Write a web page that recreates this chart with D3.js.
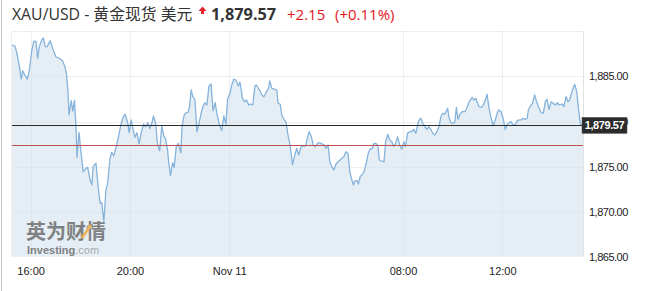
<!DOCTYPE html>
<html>
<head>
<meta charset="utf-8">
<script src="https://cdn.jsdelivr.net/npm/d3@7"></script>
<style>
  body { margin: 0; background: #fff; }
  svg { display: block; }
  .ylab text { font-family: "Liberation Sans", Arial, sans-serif; font-size: 11px; fill: #222; letter-spacing: -0.5px; }
  .xlab text { font-family: "Liberation Sans", Arial, sans-serif; font-size: 11px; fill: #222; }
</style>
</head>
<body>
<svg width="649" height="291"></svg>
<script>
// header values
const symbol = 'XAU/USD - 黄金现货 美元';
const lastPrice = 1879.57;
const change = 2.15;
const changePct = 0.11;
const prevClose = lastPrice - change;

// x ticks (Beijing time, 10 -> 11 Nov)
const tickTimes = ['16:00', '20:00', '00:00', '08:00', '12:00'];
const tickLabels = ['16:00', '20:00', 'Nov 11', '08:00', '12:00'];
const yTicks = [1865, 1870, 1875, 1880, 1885];
const yGrid = [1870, 1875, 1880, 1885, 1890];

// price series
const times = [
  '15:15','15:22','15:26','15:33','15:37','15:41','15:46','15:52','15:57','16:03',
  '16:08','16:13','16:17','16:21','16:27','16:31','16:35','16:40','16:47','16:53',
  '17:01','17:09','17:17','17:23','17:27','17:30','17:33','17:38','17:42','17:46',
  '17:50','17:52','17:57','18:02','18:07','18:14','18:18','18:23','18:28','18:31',
  '18:38','18:44','18:48','18:52','18:57','19:02','19:06','19:12','19:16','19:21',
  '19:28','19:34','19:38','19:44','19:48','19:55','19:58','20:03','20:08','20:12',
  '20:17','20:22','20:28','20:33','20:38','20:43','20:48','20:53','20:57','21:02',
  '21:07','21:12','21:17','21:22','21:26','21:31','21:34','21:38','21:43','21:47',
  '21:52','21:57','22:03','22:06','22:11','22:16','22:21','22:24','22:28','22:32',
  '22:37','22:42','22:47','22:52','22:57','23:01','23:06','23:11','23:16','23:21',
  '23:26','23:30','23:35','23:42','23:47','23:52','23:56','00:02','00:06','00:11',
  '00:16','00:22','00:26','00:32','00:37','00:42','00:47','00:52','00:57','01:02',
  '01:06','01:13','01:19','01:24','01:30','01:35','01:38','01:43','01:50','01:55',
  '01:58','02:03','02:07','02:12','02:17','02:22','02:27','02:30','02:33','02:38',
  '02:43','02:48','02:53','02:57','03:04','03:09','03:13','03:18','03:23','03:28',
  '03:33','03:38','03:44','03:49','03:54','03:59','04:03','04:08','04:13','04:18',
  '04:23','04:28','04:32','04:37','04:42','04:47','04:52','04:57','05:00','05:04',
  '05:09','05:12','05:17','05:21','05:26','05:31','05:36','05:40','05:46','05:49',
  '05:54','05:59','07:03','07:08','07:14','07:18','07:23','07:28','07:33','07:37',
  '07:42','07:47','07:52','07:57','08:02','08:06','08:11','08:16','08:21','08:26',
  '08:31','08:35','08:38','08:43','08:48','08:53','08:58','09:03','09:07','09:12',
  '09:17','09:22','09:27','09:32','09:36','09:41','09:44','09:48','09:51','09:56',
  '10:01','10:05','10:09','10:13','10:18','10:23','10:30','10:34','10:40','10:47',
  '10:51','10:56','10:59','11:04','11:09','11:14','11:19','11:23','11:28','11:33',
  '11:38','11:43','11:48','11:52','11:57','12:02','12:07','12:12','12:17','12:21',
  '12:26','12:31','12:36','12:41','12:46','12:50','12:55','13:00','13:03','13:08',
  '13:13','13:18','13:23','13:28','13:34','13:39','13:44','13:48','13:53','13:58',
  '14:03','14:08','14:13','14:17','14:24','14:29','14:34','14:39','14:43','14:48',
  '14:55','15:00','15:04','15:09','15:15'
];
const prices = [
  1888.48,1888.37,1887.74,1886.08,1884.71,1885.63,1885.16,1884.68,1885.71,1887.93,
  1888.92,1888.85,1887.01,1888.29,1889.04,1889.26,1888.29,1888.29,1888.96,1888.12,
  1887.18,1887.01,1886.74,1886.08,1885.16,1883.49,1880.72,1882.31,1881.16,1882.38,
  1879.06,1875.99,1878.80,1876.47,1874.44,1874.81,1874.92,1873.70,1872.96,1874.99,
  1875.37,1872.41,1870.93,1871.00,1868.89,1872.41,1873.15,1875.92,1876.59,1876.18,
  1877.40,1878.69,1879.61,1880.53,1880.83,1879.80,1878.76,1880.17,1879.06,1878.25,
  1878.76,1877.51,1878.87,1879.72,1879.42,1879.87,1879.20,1879.80,1880.61,1879.80,
  1877.40,1876.76,1879.50,1878.39,1878.14,1876.84,1875.37,1873.99,1875.43,1874.92,
  1877.21,1877.58,1876.54,1879.42,1880.72,1880.98,1881.05,1881.64,1883.49,1882.75,
  1882.46,1878.87,1879.80,1880.91,1881.72,1882.08,1881.83,1883.94,1884.16,1881.20,
  1882.08,1880.98,1879.87,1878.98,1880.61,1879.72,1882.46,1883.13,1884.05,1884.68,
  1884.60,1883.94,1884.38,1882.57,1882.20,1882.38,1881.83,1881.94,1881.83,1883.94,
  1884.05,1883.49,1882.94,1882.75,1883.30,1883.68,1884.49,1883.68,1883.57,1883.49,
  1882.02,1881.94,1880.72,1880.24,1879.98,1878.50,1877.40,1876.29,1875.18,1876.18,
  1877.03,1876.29,1877.14,1877.28,1877.28,1878.14,1878.87,1878.39,1877.40,1877.21,
  1877.58,1877.65,1877.51,1877.40,1877.03,1877.40,1875.54,1874.99,1874.62,1875.29,
  1875.54,1875.73,1875.92,1876.10,1876.65,1876.47,1874.26,1873.44,1872.96,1873.44,
  1873.44,1873.07,1873.96,1874.07,1874.44,1875.37,1876.47,1876.92,1877.03,1877.51,
  1877.58,1877.40,1875.73,1875.62,1875.54,1877.76,1878.58,1877.95,1877.76,1877.21,
  1877.58,1878.32,1877.40,1876.92,1877.76,1877.21,1878.69,1878.87,1878.87,1879.14,
  1878.69,1879.61,1880.09,1880.36,1879.80,1879.42,1879.14,1879.42,1879.14,1878.69,
  1878.50,1878.87,1879.42,1880.61,1880.91,1880.83,1881.09,1881.46,1880.47,1879.87,
  1879.80,1879.87,1881.57,1880.24,1880.83,1881.09,1881.09,1881.46,1882.20,1882.68,
  1882.38,1882.57,1882.20,1881.64,1881.57,1881.83,1882.38,1883.02,1881.46,1880.36,
  1879.53,1880.17,1880.98,1881.28,1881.09,1880.36,1879.14,1879.72,1879.87,1879.98,
  1879.61,1879.61,1880.09,1880.17,1880.17,1880.36,1880.24,1880.36,1881.28,1881.72,
  1882.02,1882.94,1882.20,1881.57,1880.98,1880.91,1882.20,1882.46,1881.35,1882.20,
  1882.02,1881.83,1882.08,1881.83,1881.94,1881.64,1882.75,1882.20,1882.38,1883.30,
  1884.12,1883.30,1881.46,1879.61,1879.57
];

// turn clock strings into trading minutes since 15:15 (06:00-07:00 break removed)
function toTrading(list) {
  let day = 0, prev = -1;
  return list.map((t) => {
    const [h, m] = t.split(':').map(Number);
    const mins = h * 60 + m;
    if (mins < prev) day++;
    prev = mins;
    let real = day * 1440 + mins - (15 * 60 + 15);
    if (real >= 945) real -= 60;
    else if (real > 885) real = 885;
    return real;
  });
}

const xs = toTrading(times);
const data = xs.map((x, i) => ({ x: x, v: prices[i] }));

const plotL = 12, plotR = 583, plotT = 31.3, plotB = 256.8;
const x = d3.scaleLinear().domain([0, 1380]).range([plotL, plotR]);
const y = d3.scaleLinear().domain([1865, 1890]).range([plotB, plotT]);

const svg = d3.select('svg');

// outer left border of the widget
svg.append('line')
  .attr('x1', 1.5).attr('x2', 1.5).attr('y1', 0).attr('y2', 291)
  .attr('stroke', '#c8c8c8');

// area + line
const area = d3.area().x((d) => x(d.x)).y0(plotB).y1((d) => y(d.v));
const line = d3.line().x((d) => x(d.x)).y((d) => y(d.v));

svg.append('path')
  .attr('d', area(data))
  .attr('fill', '#e5eef5');

// grid
const tickX = toTrading(tickTimes);
svg.append('g').selectAll('line').data(yGrid).join('line')
  .attr('x1', plotL).attr('x2', plotR)
  .attr('y1', (d) => Math.round(y(d)) + 0.5).attr('y2', (d) => Math.round(y(d)) + 0.5)
  .attr('stroke', '#d8dde2').attr('stroke-opacity', 0.45);
svg.append('g').selectAll('line').data(tickX).join('line')
  .attr('x1', (d) => Math.round(x(d)) + 0.5).attr('x2', (d) => Math.round(x(d)) + 0.5)
  .attr('y1', plotT).attr('y2', plotB)
  .attr('stroke', '#d8dde2').attr('stroke-opacity', 0.45);

// plot frame
svg.append('line')
  .attr('x1', plotR + 0.5).attr('x2', plotR + 0.5).attr('y1', plotT).attr('y2', plotB)
  .attr('stroke', '#e2e2e2');
svg.append('line')
  .attr('x1', plotL - 0.5).attr('x2', plotL - 0.5).attr('y1', plotT).attr('y2', plotB)
  .attr('stroke', '#eeeeee');

svg.append('path')
  .attr('d', line(data))
  .attr('fill', 'none')
  .attr('stroke', '#86b3dc')
  .attr('stroke-width', 1.3)
  .attr('stroke-linejoin', 'round');

// watermark
const wm = svg.append('g').attr('opacity', 0.8);
wm.append('text')
  .attr('x', 26).attr('y', 239)
  .attr('font-family', '"Noto Sans CJK SC", sans-serif')
  .attr('font-size', 20).attr('font-weight', 'bold')
  .attr('fill', '#666')
  .text('英为财情');
wm.append('line')
  .attr('x1', 82).attr('y1', 238).attr('x2', 91).attr('y2', 225)
  .attr('stroke', '#f2a93b').attr('stroke-width', 3);
wm.append('text')
  .attr('x', 27).attr('y', 254)
  .attr('font-family', '"Liberation Sans", Arial, sans-serif')
  .attr('font-size', 11)
  .html('<tspan font-weight="bold" fill="#666">Investing</tspan><tspan fill="#999">.com</tspan>');

// prev close + last price lines
svg.append('line')
  .attr('x1', plotL).attr('x2', plotR)
  .attr('y1', Math.round(y(prevClose)) + 0.5).attr('y2', Math.round(y(prevClose)) + 0.5)
  .attr('stroke', '#c0504d');
svg.append('line')
  .attr('x1', plotL).attr('x2', plotR)
  .attr('y1', Math.round(y(lastPrice)) + 0.5).attr('y2', Math.round(y(lastPrice)) + 0.5)
  .attr('stroke', '#2a2a2a');

// axes
const fmt = d3.format(',.2f');
svg.append('g')
  .attr('class', 'ylab')
  .attr('transform', `translate(${plotR + 6},0)`)
  .call(d3.axisRight(y).tickValues(yTicks).tickFormat(fmt).tickSize(0).tickPadding(0))
  .call((g) => g.select('.domain').remove());

svg.append('g')
  .attr('class', 'xlab')
  .attr('transform', `translate(0,${plotB + 10})`)
  .call(d3.axisBottom(x).tickValues(tickX).tickFormat((d, i) => tickLabels[i]).tickSize(0).tickPadding(0))
  .call((g) => g.select('.domain').remove());

// last price tag (covers the 1,880.00 label, as in the original)
const tagY = y(lastPrice);
svg.append('rect')
  .attr('x', 582).attr('y', tagY - 8).attr('width', 45).attr('height', 16)
  .attr('fill', '#2b2b2b').attr('stroke', '#555').attr('stroke-width', 0.5);
svg.append('text')
  .attr('x', 604.5).attr('y', tagY + 4)
  .attr('text-anchor', 'middle')
  .attr('font-family', '"Liberation Sans", Arial, sans-serif')
  .attr('font-size', 11).attr('font-weight', 'bold')
  .attr('letter-spacing', -0.4)
  .attr('fill', '#fff')
  .text(fmt(lastPrice));

// header
const head = svg.append('g').attr('font-family', '"Open Sans", "Noto Sans CJK SC", sans-serif');
head.append('text')
  .attr('x', 12).attr('y', 20)
  .attr('font-size', 15.8).attr('fill', '#333')
  .text(symbol);
head.append('path')
  .attr('d', 'M202.5,6.5 L206.5,11 L204,11 L204,14 L201,14 L201,11 L198.5,11 Z')
  .attr('fill', '#e4232a');
head.append('text')
  .attr('x', 211).attr('y', 20)
  .attr('font-size', 16.3).attr('font-weight', 'bold').attr('fill', '#333')
  .text(fmt(lastPrice));
head.append('text')
  .attr('x', 287).attr('y', 20)
  .attr('font-size', 15).attr('fill', '#e4141b')
  .text('+' + change.toFixed(2));
head.append('text')
  .attr('x', 335).attr('y', 20)
  .attr('font-size', 15).attr('fill', '#e4141b')
  .text(`(+${changePct.toFixed(2)}%)`);
</script>
</body>
</html>
